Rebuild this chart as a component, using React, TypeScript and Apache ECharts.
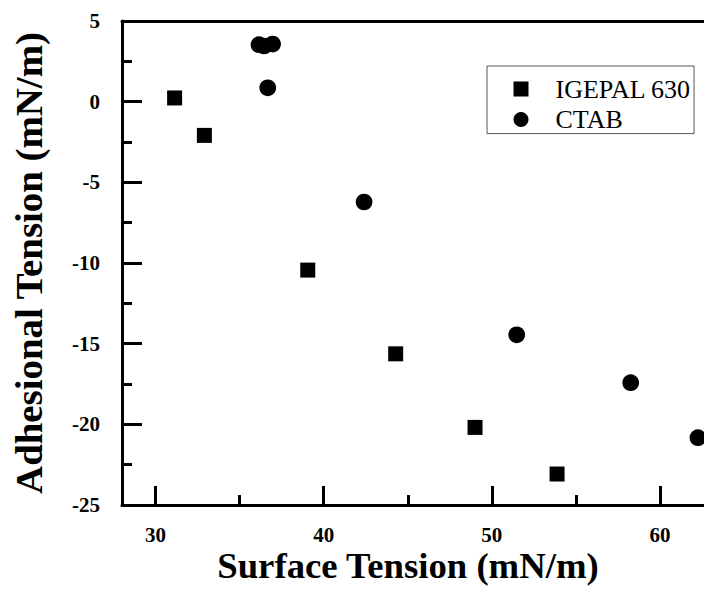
import React, { useEffect, useRef } from "react";
import * as echarts from "echarts";

const igepalX = [31.13, 32.9, 39.05, 44.28, 49.0, 53.88];
const igepalY = [0.23, -2.09, -10.44, -15.63, -20.19, -23.08];
const ctabX = [36.15, 36.45, 36.96, 36.67, 42.4, 51.48, 58.26, 62.26];
const ctabY = [3.53, 3.45, 3.57, 0.86, -6.22, -14.45, -17.42, -20.83];
const xMajorTicks = [30, 40, 50, 60];
const xMinorTicks = [35, 45, 55];
const seriesNames = ["IGEPAL 630", "CTAB"];
const xTitle = "Surface Tension (mN/m)";
const yTitle = "Adhesional Tension (mN/m)";

const FONT = '"Times New Roman", "Liberation Serif", serif';

export default function App() {
  const ref = useRef<HTMLDivElement>(null);
  useEffect(() => {
    if (!ref.current) return;
    const chart = echarts.init(ref.current, undefined, { renderer: "svg" });
    const xMin = 28;
    const xMax = 62.62;
    const line = { color: "#000", width: 3 };
    const tickLabel = {
      fontSize: 21,
      lineHeight: 16,
      fontWeight: "bold",
      fontFamily: FONT,
      color: "#000",
    };
    const option: any = {
      animation: false,
      backgroundColor: "#fff",
      grid: { left: 122, top: 21, right: 0, bottom: 96, containLabel: false },
      legend: {
        data: seriesNames,
        orient: "vertical",
        left: 487,
        top: 66,
        padding: [10, 3, 1, 26.5],
        itemWidth: 15,
        itemHeight: 15,
        itemGap: 4.6,
        borderColor: "#555",
        borderWidth: 1,
        textStyle: { fontFamily: FONT, fontSize: 26, color: "#000", padding: [0, 0, 0, 22] },
      },
      xAxis: [
        {
          type: "value",
          min: xMin,
          max: xMax,
          position: "bottom",
          axisLine: { onZero: false, lineStyle: line },
          axisTick: { inside: true, length: 19, lineStyle: line, customValues: xMajorTicks },
          axisLabel: { customValues: xMajorTicks, margin: 22, ...tickLabel },
          splitLine: { show: false },
        },
        {
          type: "value",
          min: xMin,
          max: xMax,
          position: "bottom",
          axisLine: { show: false, onZero: false },
          axisTick: { inside: true, length: 10, lineStyle: line, customValues: xMinorTicks },
          axisLabel: { show: false },
          splitLine: { show: false },
        },
        {
          type: "value",
          min: xMin,
          max: xMax,
          position: "top",
          axisLine: { onZero: false, lineStyle: line },
          axisTick: { show: false },
          axisLabel: { show: false },
          splitLine: { show: false },
        },
      ],
      yAxis: {
        type: "value",
        min: -25,
        max: 5,
        interval: 5,
        axisLine: { onZero: false, lineStyle: line },
        axisTick: { inside: true, length: 20, lineStyle: line },
        minorTick: { show: true, splitNumber: 2, length: 10, lineStyle: line },
        axisLabel: { margin: 22, ...tickLabel },
        splitLine: { show: false },
        minorSplitLine: { show: false },
      },
      series: [
        {
          name: seriesNames[0],
          type: "scatter",
          symbol: "rect",
          symbolSize: 15,
          itemStyle: { color: "#000", opacity: 1 },
          data: igepalX.map((x, i) => [x, igepalY[i]]),
        },
        {
          name: seriesNames[1],
          type: "scatter",
          symbol: "circle",
          symbolSize: 16.7,
          itemStyle: { color: "#000", opacity: 1 },
          data: ctabX.map((x, i) => [x, ctabY[i]]),
        },
      ],
      graphic: [
        {
          type: "text",
          x: 29,
          y: 263,
          rotation: Math.PI / 2,
          scaleX: 1.05,
          style: {
            text: yTitle,
            font: `bold 37px ${FONT}`,
            lineHeight: 28,
            fill: "#000",
            textAlign: "center",
            textVerticalAlign: "middle",
          },
        },
        {
          type: "text",
          x: 408,
          y: 566,
          scaleX: 1.02,
          style: {
            text: xTitle,
            font: `bold 36px ${FONT}`,
            lineHeight: 28,
            fill: "#000",
            textAlign: "center",
            textVerticalAlign: "middle",
          },
        },
      ],
    };
    chart.setOption(option);
    return () => chart.dispose();
  }, []);
  return (
    <div
      ref={ref}
      style={{ position: "fixed", left: 0, top: 0, width: 704, height: 601, background: "#fff" }}
    />
  );
}
